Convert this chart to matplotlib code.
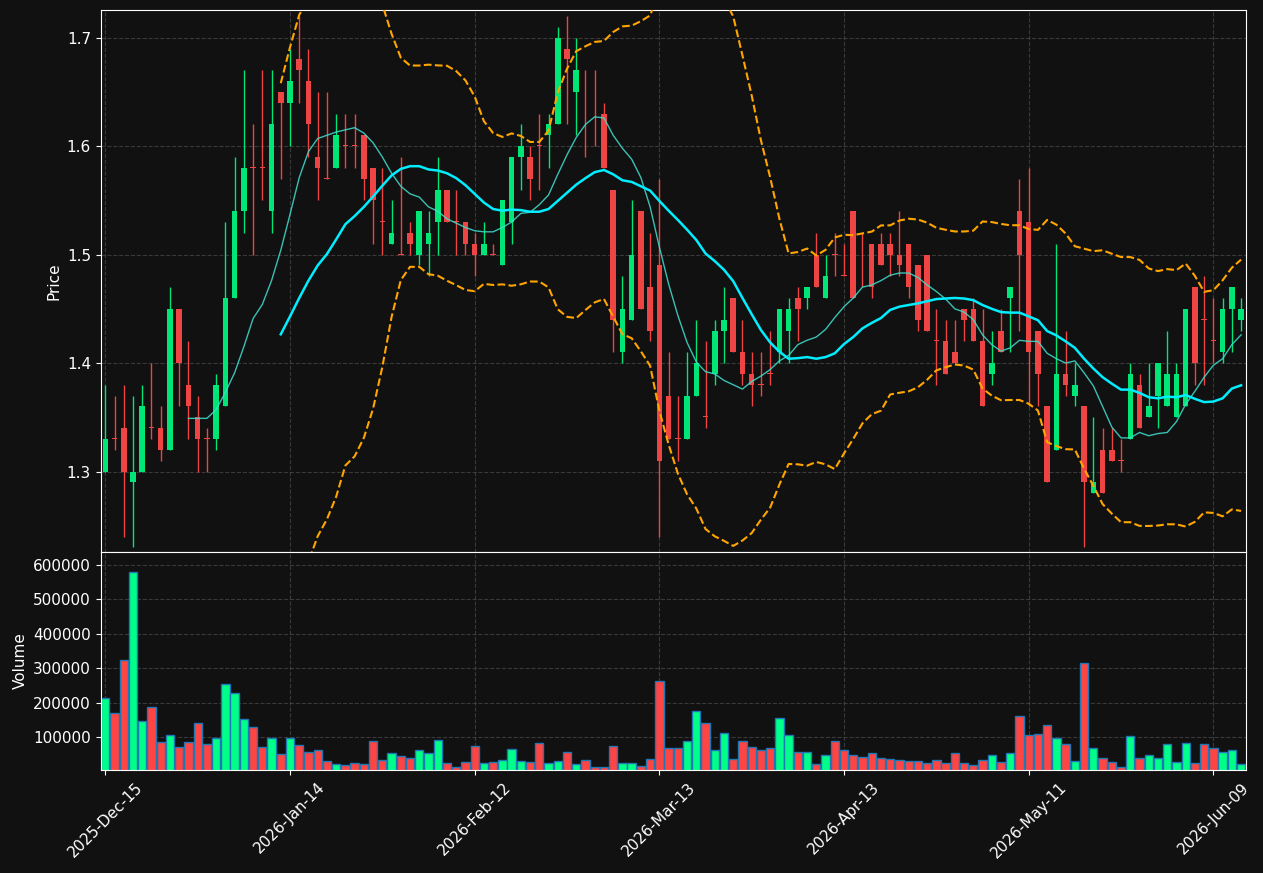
import numpy as np
import pandas as pd
import matplotlib
matplotlib.use("Agg")
import matplotlib.pyplot as plt

# ---------------- data ----------------
opens = [1.30, 1.33, 1.34, 1.29, 1.30, 1.34, 1.34, 1.32, 1.45, 1.38,
         1.35, 1.33, 1.33, 1.36, 1.46, 1.54, 1.58, 1.58, 1.54, 1.65,
         1.64, 1.68, 1.66, 1.59, 1.57, 1.58, 1.60, 1.60, 1.61, 1.58,
         1.53, 1.51, 1.50, 1.52, 1.50, 1.51, 1.53, 1.56, 1.53, 1.53,
         1.51, 1.50, 1.50, 1.49, 1.53, 1.59, 1.59, 1.60, 1.61, 1.62,
         1.69, 1.65, 1.62, 1.62, 1.63, 1.56, 1.41, 1.44, 1.54, 1.47,
         1.49, 1.37, 1.33, 1.33, 1.37, 1.35, 1.39, 1.43, 1.46, 1.41,
         1.39, 1.38, 1.39, 1.41, 1.43, 1.46, 1.46, 1.50, 1.46, 1.50,
         1.48, 1.54, 1.49, 1.51, 1.51, 1.51, 1.50, 1.51, 1.49, 1.50,
         1.42, 1.42, 1.41, 1.45, 1.45, 1.42, 1.39, 1.43, 1.46, 1.54,
         1.53, 1.43, 1.36, 1.32, 1.39, 1.37, 1.36, 1.28, 1.32, 1.32,
         1.31, 1.33, 1.38, 1.35, 1.37, 1.36, 1.35, 1.36, 1.47, 1.44,
         1.42, 1.41, 1.45, 1.44]
highs = [1.38, 1.37, 1.38, 1.37, 1.38, 1.40, 1.36, 1.47, 1.45, 1.42,
         1.37, 1.34, 1.39, 1.53, 1.59, 1.67, 1.62, 1.67, 1.67, 1.65,
         1.69, 1.72, 1.69, 1.65, 1.65, 1.63, 1.63, 1.63, 1.61, 1.58,
         1.58, 1.55, 1.59, 1.53, 1.54, 1.54, 1.59, 1.56, 1.56, 1.53,
         1.52, 1.53, 1.51, 1.55, 1.59, 1.62, 1.60, 1.63, 1.63, 1.71,
         1.72, 1.70, 1.67, 1.67, 1.64, 1.56, 1.48, 1.55, 1.54, 1.52,
         1.57, 1.41, 1.37, 1.41, 1.44, 1.42, 1.44, 1.47, 1.46, 1.44,
         1.41, 1.41, 1.43, 1.45, 1.46, 1.47, 1.47, 1.52, 1.50, 1.52,
         1.51, 1.54, 1.52, 1.51, 1.52, 1.52, 1.54, 1.51, 1.49, 1.50,
         1.45, 1.44, 1.44, 1.45, 1.46, 1.45, 1.43, 1.45, 1.47, 1.57,
         1.58, 1.43, 1.36, 1.51, 1.43, 1.40, 1.36, 1.35, 1.34, 1.34,
         1.33, 1.40, 1.39, 1.40, 1.40, 1.43, 1.40, 1.45, 1.47, 1.48,
         1.46, 1.46, 1.47, 1.46]
lows = [1.30, 1.32, 1.24, 1.23, 1.30, 1.33, 1.31, 1.32, 1.36, 1.33,
        1.30, 1.30, 1.32, 1.36, 1.46, 1.52, 1.50, 1.55, 1.52, 1.57,
        1.60, 1.64, 1.59, 1.55, 1.57, 1.58, 1.58, 1.58, 1.55, 1.51,
        1.50, 1.51, 1.50, 1.50, 1.49, 1.48, 1.50, 1.53, 1.50, 1.50,
        1.48, 1.50, 1.50, 1.49, 1.51, 1.56, 1.55, 1.56, 1.58, 1.62,
        1.62, 1.61, 1.59, 1.60, 1.58, 1.41, 1.40, 1.44, 1.45, 1.42,
        1.24, 1.33, 1.31, 1.33, 1.37, 1.34, 1.38, 1.40, 1.41, 1.38,
        1.36, 1.37, 1.38, 1.40, 1.40, 1.42, 1.45, 1.47, 1.46, 1.48,
        1.48, 1.46, 1.47, 1.46, 1.49, 1.48, 1.48, 1.46, 1.43, 1.43,
        1.38, 1.39, 1.40, 1.42, 1.42, 1.36, 1.38, 1.41, 1.41, 1.43,
        1.36, 1.36, 1.29, 1.32, 1.37, 1.36, 1.23, 1.28, 1.28, 1.31,
        1.30, 1.33, 1.34, 1.35, 1.34, 1.36, 1.35, 1.36, 1.38, 1.38,
        1.40, 1.40, 1.41, 1.43]
closes = [1.33, 1.33, 1.30, 1.30, 1.36, 1.34, 1.32, 1.45, 1.40, 1.36,
          1.33, 1.33, 1.38, 1.46, 1.54, 1.58, 1.58, 1.58, 1.62, 1.64,
          1.66, 1.67, 1.62, 1.58, 1.57, 1.61, 1.60, 1.60, 1.57, 1.55,
          1.53, 1.52, 1.50, 1.51, 1.54, 1.52, 1.56, 1.53, 1.53, 1.51,
          1.50, 1.51, 1.50, 1.55, 1.59, 1.60, 1.57, 1.60, 1.62, 1.70,
          1.68, 1.67, 1.62, 1.62, 1.58, 1.44, 1.45, 1.50, 1.45, 1.43,
          1.31, 1.33, 1.33, 1.37, 1.40, 1.35, 1.43, 1.44, 1.41, 1.39,
          1.38, 1.38, 1.39, 1.45, 1.45, 1.45, 1.47, 1.47, 1.48, 1.50,
          1.48, 1.46, 1.49, 1.47, 1.49, 1.50, 1.49, 1.47, 1.44, 1.43,
          1.42, 1.39, 1.40, 1.44, 1.42, 1.36, 1.40, 1.41, 1.47, 1.50,
          1.41, 1.39, 1.29, 1.39, 1.38, 1.38, 1.29, 1.29, 1.28, 1.31,
          1.31, 1.39, 1.34, 1.36, 1.40, 1.39, 1.39, 1.45, 1.40, 1.44,
          1.42, 1.45, 1.47, 1.45]
volumes = [214000, 170000, 325000, 580000, 147000, 188000, 85000, 106000, 71000, 85000,
           141000, 80000, 97000, 255000, 229000, 153000, 129000, 71000, 97000, 50000,
           97000, 77000, 56000, 62000, 30000, 21000, 18000, 24000, 21000, 88000,
           33000, 53000, 44000, 39000, 62000, 53000, 91000, 24000, 12000, 27000,
           74000, 24000, 27000, 33000, 65000, 30000, 27000, 82000, 24000, 30000,
           56000, 21000, 33000, 12000, 12000, 74000, 24000, 24000, 15000, 36000,
           264000, 68000, 68000, 88000, 176000, 141000, 62000, 112000, 36000, 88000,
           71000, 62000, 68000, 156000, 106000, 56000, 56000, 21000, 47000, 88000,
           62000, 47000, 42000, 53000, 39000, 36000, 33000, 30000, 30000, 24000,
           33000, 24000, 53000, 24000, 18000, 33000, 47000, 27000, 53000, 161000,
           106000, 109000, 135000, 97000, 80000, 30000, 316000, 68000, 39000, 27000,
           12000, 103000, 39000, 47000, 39000, 80000, 27000, 82000, 24000, 80000,
           68000, 56000, 62000, 21000]
tick_labels = ['2025-Dec-15', '2026-Jan-14', '2026-Feb-12', '2026-Mar-13',
               '2026-Apr-13', '2026-May-11', '2026-Jun-09']

# ---------------- derived ----------------
o = np.array(opens); h = np.array(highs); l = np.array(lows); c = np.array(closes)
v = np.array(volumes)
n = len(c)
x = np.arange(n)
cs = pd.Series(c)
ma10 = cs.rolling(10).mean()
ma20 = cs.rolling(20).mean()
sd20 = cs.rolling(20).std(ddof=0)
upper = ma20 + 2 * sd20
lower = ma20 - 2 * sd20

up = c > o
BG = '#111111'
c_up, c_dn = '#00e676', '#ef4444'
v_up, v_dn = '#00ff88', '#ff4444'

fig = plt.figure(figsize=(12.63, 8.73), dpi=100, facecolor=BG)
ax = fig.add_axes([100.7 / 1263, 1 - 552 / 873, 1145 / 1263, 542 / 873], facecolor=BG)
axv = fig.add_axes([100.7 / 1263, 1 - 770 / 873, 1145 / 1263, 218 / 873], facecolor=BG, sharex=ax)

# candles
cols = np.where(up, c_up, c_dn)
ax.vlines(x, l, h, colors=cols, linewidth=1, zorder=2)
body_bot = np.minimum(o, c)
body_h = np.abs(c - o)
body_h = np.where(body_h < 0.001, 0.0008, body_h)
ax.bar(x, body_h, bottom=body_bot, width=0.6, color=cols, linewidth=0, zorder=3)

ax.plot(x, ma10, color='#40e0d0', linewidth=1, alpha=0.85, zorder=4)
ax.plot(x, ma20, color='#00eeff', linewidth=1.8, zorder=4)
ax.plot(x, upper, color='#ffa500', linestyle='--', linewidth=1.5, zorder=4)
ax.plot(x, lower, color='#ffa500', linestyle='--', linewidth=1.5, zorder=4)

ax.set_ylim(1.2258, 1.7255)
ax.set_xlim(-0.5, n - 0.5)
ax.set_yticks([1.3, 1.4, 1.5, 1.6, 1.7])
ax.set_ylabel('Price', color='white', fontsize=11)

# volume
vcols = np.where(up, v_up, v_dn)
axv.bar(x, v, width=0.9, color=vcols, edgecolor='#1f77b4', linewidth=1)
axv.set_ylim(4500, 638000)
axv.set_yticks([100000, 200000, 300000, 400000, 500000, 600000])
axv.set_yticklabels(['100000', '200000', '300000', '400000', '500000', '600000'])
axv.set_ylabel('Volume', color='white', fontsize=11)

ticks = list(range(0, n, 20))
axv.set_xticks(ticks)
axv.set_xticklabels(tick_labels, rotation=45)
plt.setp(ax.get_xticklabels(), visible=False)

for a in (ax, axv):
    a.grid(True, color='#555555', linestyle='--', linewidth=0.8, alpha=0.6)
    a.set_axisbelow(True)
    a.tick_params(colors='white', labelsize=11)
    for s in a.spines.values():
        s.set_color('white')

fig.savefig('out.png', dpi=100, facecolor=BG)
